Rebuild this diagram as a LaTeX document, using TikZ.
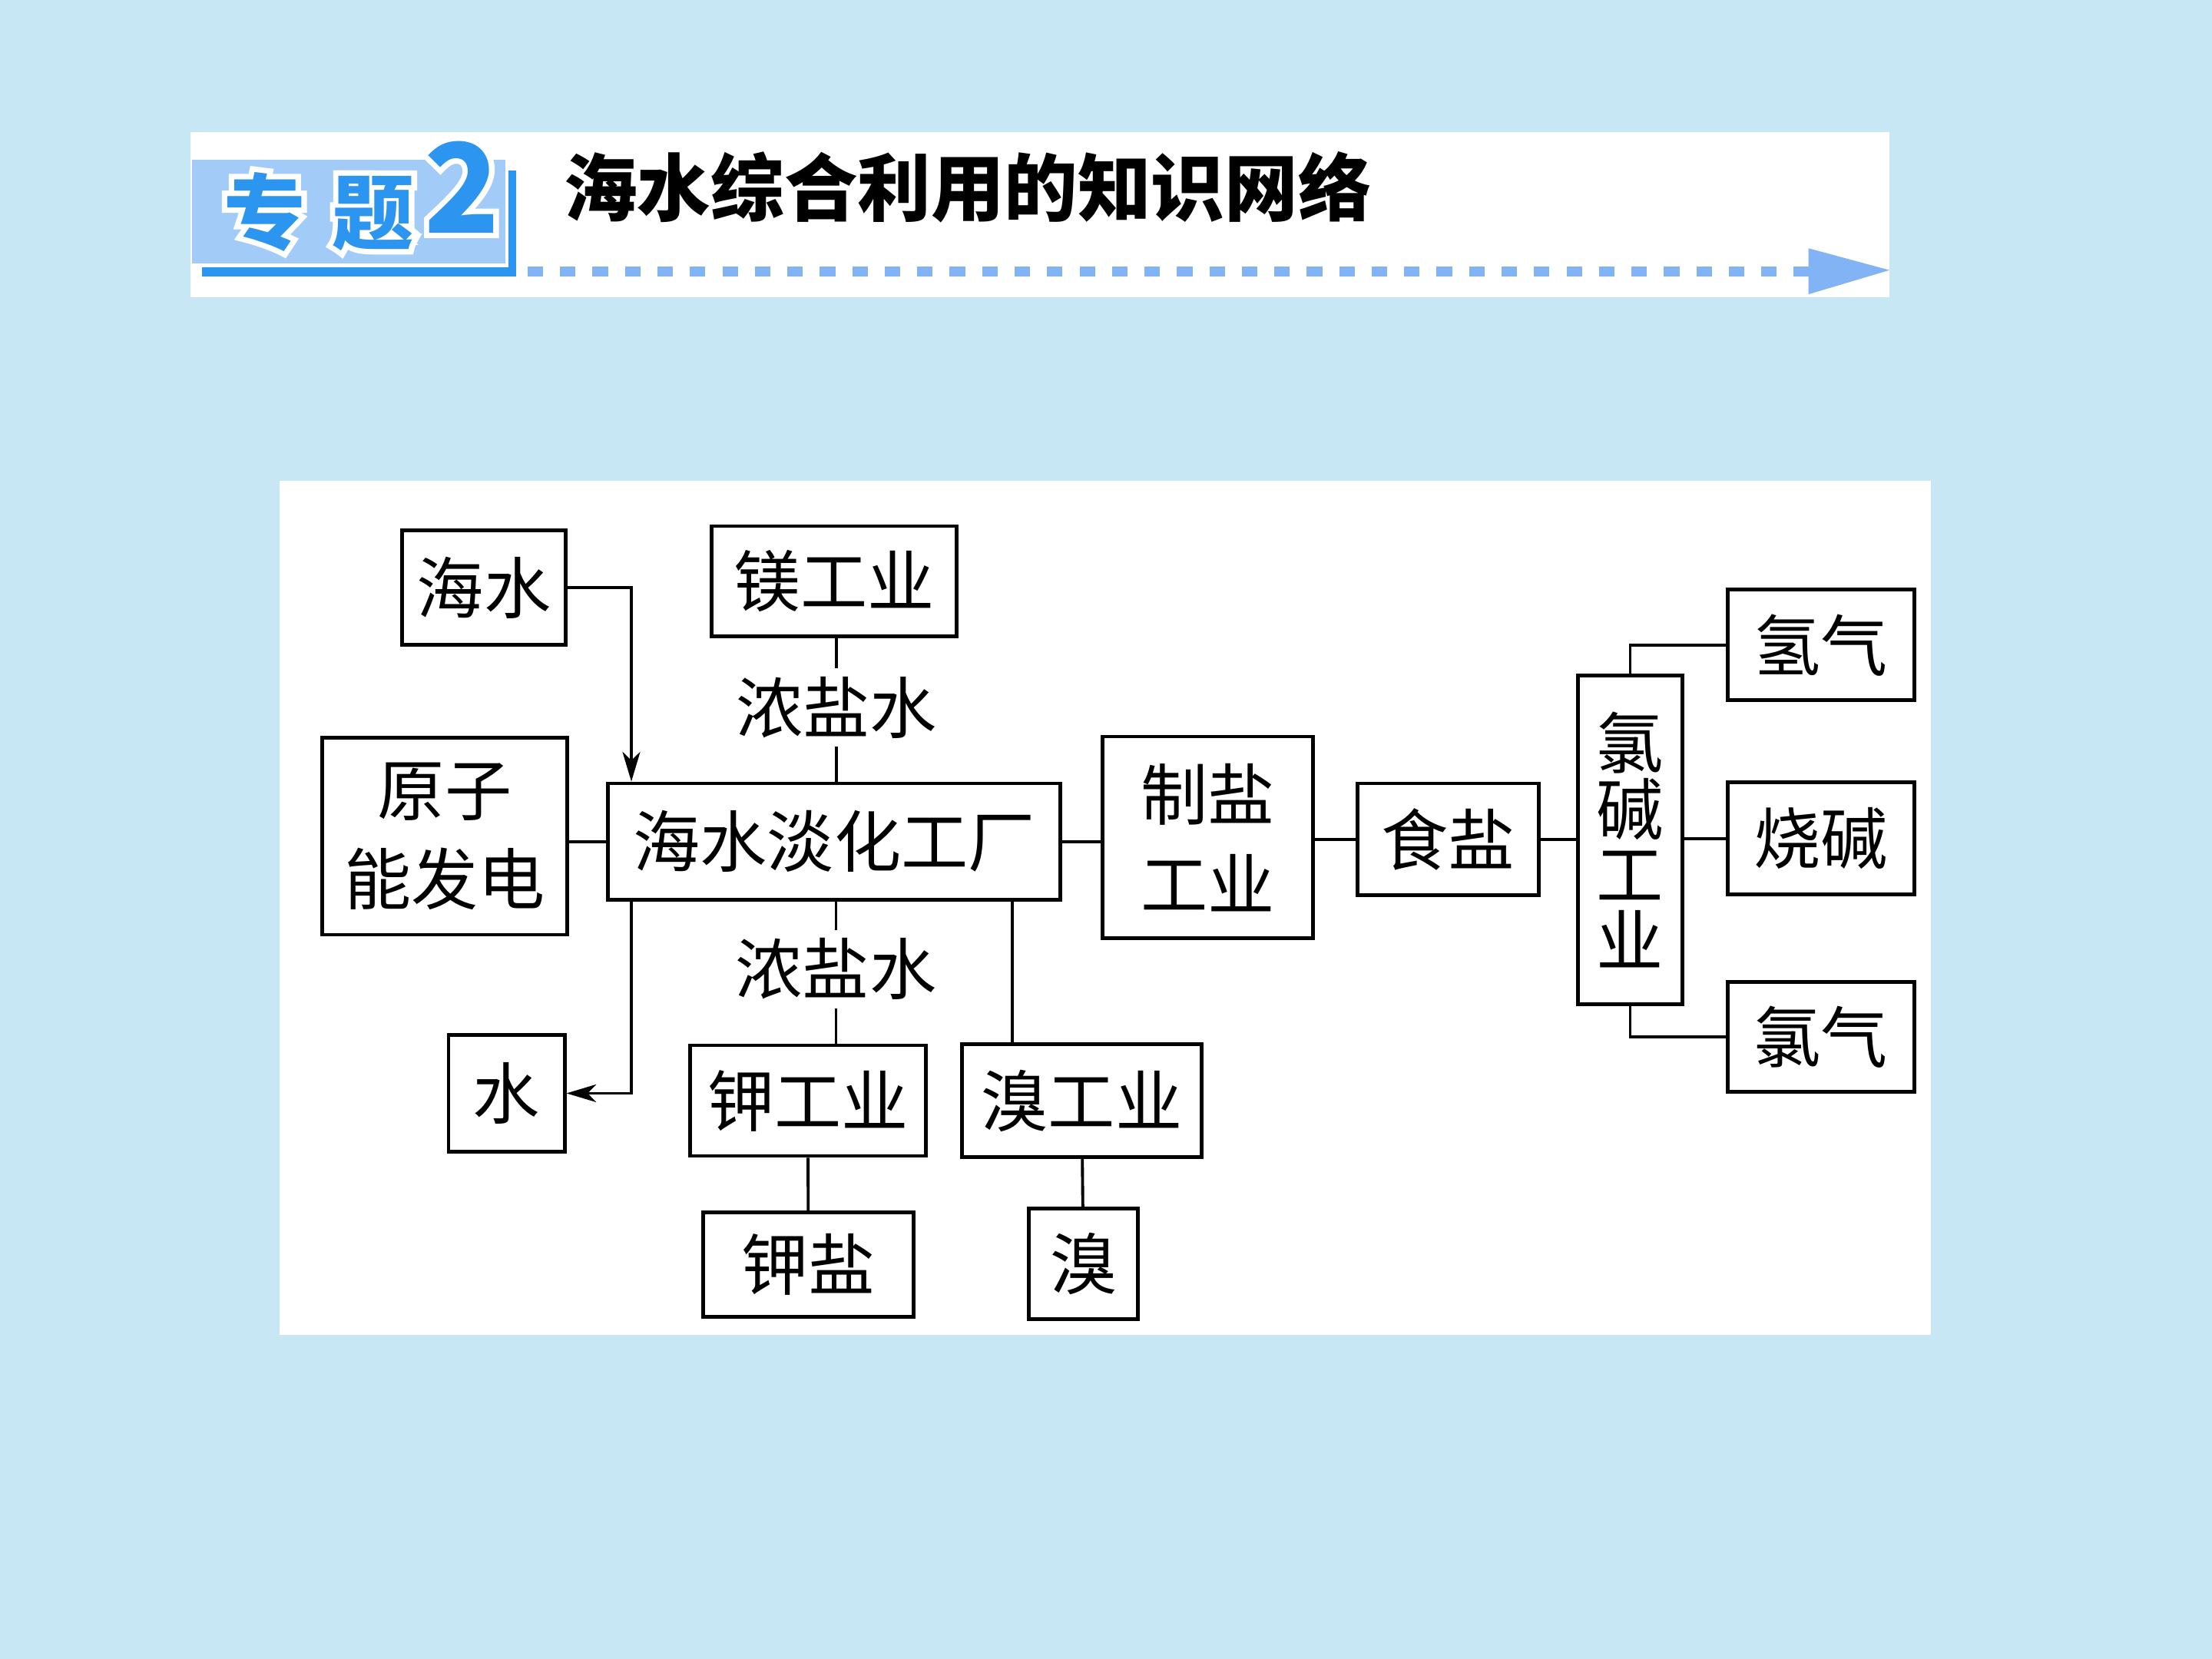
\documentclass[tikz,border=0pt]{standalone}
\usepackage{fontspec}
\usetikzlibrary{arrows.meta}
\newfontfamily\cjk{Noto Sans CJK SC}
\definecolor{pagebg}{RGB}{200,231,245}
\definecolor{tagblue}{RGB}{43,149,240}
\definecolor{taglight}{RGB}{163,203,247}
\definecolor{dashblue}{RGB}{130,180,245}
\newcommand{\diagfont}{\cjk\fontsize{13.5}{18}\selectfont}
% thick white rim drawn under the blue tag lettering
\newcommand{\rimtext}[1]{\special{pdf:literal direct 2 Tr 1 1 1 RG 2.2 w}#1\special{pdf:literal direct 0 Tr}}

\tikzset{
  box/.style={draw, line width=0.75pt, inner sep=0pt, align=center, font=\diagfont},
  wire/.style={line width=0.6pt},
  feed/.style={wire, -{Stealth[length=0.21cm, width=0.125cm, inset=0.06cm]}},
  brine/.style={inner sep=1.5pt, font=\diagfont},
  tagfont/.style={font=\cjk\bfseries\fontsize{16.5}{16.5}\selectfont},
  numfont/.style={font=\cjk\bfseries\fontsize{25}{25}\selectfont}
}

\begin{document}
\begin{tikzpicture}[x=0.01cm, y=-0.01cm]
    % page
    \fill[pagebg] (0,0) rectangle (1568,1176);
    \useasboundingbox (0,0) rectangle (1568,1176);

    % --- title bar ---
    \fill[white] (135,93.6) rectangle (1339.4,210.7);
    \fill[taglight] (136,113) rectangle (358,187);
    \fill[tagblue] (143,189.5) rectangle (366,196);
    \fill[tagblue] (360.5,121) rectangle (366,196);
    \node[tagfont, text=white] (tagrim) at (226,150) {\rimtext{专\hspace{0.19cm}题}};
    \node[tagfont, text=tagblue] (tag) at (tagrim) {专\hspace{0.19cm}题};
    \node[numfont, text=white] (numrim) at (327.5,132.5) {\rimtext{2}};
    \node[numfont, text=tagblue] (num) at (numrim) {2};
    \node[font=\cjk\bfseries\fontsize{14.8}{14.8}\selectfont] (title) at (686,133)
        {海水综合利用的知识网络};
    \draw[dashblue, line width=0.07cm, dash pattern=on 0.11cm off 0.12cm] (374,192.5) -- (1283,192.5);
    \fill[dashblue] (1282,176) -- (1339.4,191.5) -- (1282,208.6) -- cycle;

    % --- diagram panel ---
    \fill[white] (198,341) rectangle (1369,946);

    % desalination plant and its inputs
    \node[box, minimum width=1.16cm, minimum height=0.81cm] (haishui) at (343,416.5) {海水};
    \node[box, minimum width=1.734cm, minimum height=0.78cm] (mg) at (591.3,412) {镁工业};
    \node[brine] (nsu) at (593,501.5) {浓盐水};
    \node[box, minimum width=1.738cm, minimum height=1.395cm] (yzn) at (315.3,592.8) {原子\\能发电};
    \node[box, minimum width=3.207cm, minimum height=0.823cm] (plant) at (591.3,596.5) {海水淡化工厂};

    % salt and chlor-alkali chain
    \node[box, minimum width=1.49cm, minimum height=1.43cm] (zy) at (856.1,593.7) {制盐\\工业};
    \node[box, minimum width=1.281cm, minimum height=0.793cm] (sy) at (1026.5,595) {食盐};
    \node[box, minimum width=0.737cm, minimum height=2.326cm,
          font=\cjk\fontsize{13.5}{13.3}\selectfont] (lj) at (1155.6,595.3) {氯\\碱\\工\\业};
    \node[box, minimum width=1.322cm, minimum height=0.784cm] (qq) at (1290.8,457.2) {氢气};
    \node[box, minimum width=1.322cm, minimum height=0.791cm] (sj) at (1290.8,594.3) {烧碱};
    \node[box, minimum width=1.322cm, minimum height=0.782cm] (lq) at (1290.8,735) {氯气};

    % outputs below the plant
    \node[brine] (nsl) at (592.6,687) {浓盐水};
    \node[box, minimum width=0.822cm, minimum height=0.823cm] (shui) at (359.1,775) {水};
    \node[box, minimum width=1.67cm, minimum height=0.784cm] (kgy) at (572.7,780.2) {钾工业};
    \node[box, minimum width=1.696cm, minimum height=0.8cm] (xgy) at (766.8,780.3) {溴工业};
    \node[box, minimum width=1.49cm, minimum height=0.74cm] (ky) at (573,896.5) {钾盐};
    \node[box, minimum width=0.775cm, minimum height=0.78cm] (xiu) at (768,895.9) {溴};

    % connectors
    \coordinate (inx) at ([xshift=0.18cm]plant.north west);
    \draw[feed] (haishui) -| (inx);
    \draw[wire] (nsu) -- (mg.south -| nsu);
    \draw[wire] (nsu) -- (plant.north -| nsu);
    \draw[wire] (plant.west) -- (plant.west -| yzn.east);
    \draw[wire] (plant.east) -- (plant.east -| zy.west);
    \draw[wire] (sy.west) -- (sy.west -| zy.east);
    \draw[wire] (sy.east) -- (sy.east -| lj.west);
    \draw[wire] (sj.west) -- (sj.west -| lj.east);
    \draw[wire] (lj.north) |- (qq);
    \draw[wire] (lj.south) |- (lq);
    \coordinate (outx) at ([xshift=0.18cm]plant.south west);
    \draw[feed] (outx) |- (shui);
    \draw[wire] (nsl) -- (plant.south -| nsl);
    \draw[wire] (nsl) -- (kgy.north -| nsl);
    \coordinate (brx) at ([xshift=0.37cm]xgy.north west);
    \draw[wire] (brx) -- (brx |- plant.south);
    \draw[wire] (kgy) -- (ky);
    \draw[wire] (xgy) -- (xiu);
\end{tikzpicture}
\end{document}
